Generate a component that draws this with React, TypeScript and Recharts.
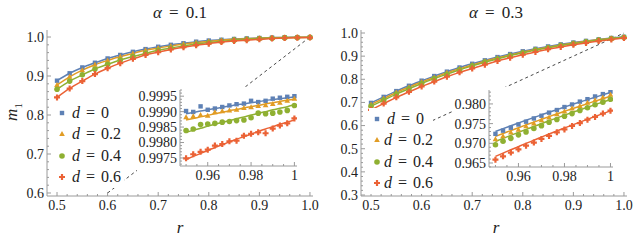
import { ComposedChart, Line, Scatter, XAxis, YAxis, ReferenceLine } from 'recharts'

const FONT = '"Liberation Serif", serif'
const FRAME = '#9a9a9a'
const INK = '#222'

// main panels: r grid of the simulations
const R = [0.5, 0.525, 0.55, 0.575, 0.6, 0.625, 0.65, 0.675, 0.7, 0.725, 0.75, 0.775, 0.8, 0.825, 0.85, 0.875, 0.9, 0.925, 0.95, 0.975, 1.0]
// zoomed insets
const RZ = [0.95, 0.9533, 0.9567, 0.96, 0.9633, 0.9667, 0.97, 0.9733, 0.9767, 0.98, 0.9833, 0.9867, 0.99, 0.9933, 0.9967, 1.0]

// alpha = 0.1
const A1_D0 = [0.888, 0.907, 0.922, 0.934, 0.945, 0.954, 0.962, 0.969, 0.975, 0.98, 0.984, 0.988, 0.991, 0.993, 0.995, 0.9965, 0.9975, 0.9985, 0.999, 0.9993, 0.9995]
const A1_D2 = [0.877, 0.898, 0.915, 0.929, 0.94, 0.95, 0.958, 0.966, 0.972, 0.977, 0.982, 0.986, 0.989, 0.992, 0.994, 0.9955, 0.997, 0.998, 0.9987, 0.9991, 0.9994]
const A1_D4 = [0.866, 0.887, 0.903, 0.918, 0.93, 0.941, 0.95, 0.958, 0.966, 0.972, 0.977, 0.982, 0.986, 0.989, 0.992, 0.994, 0.996, 0.997, 0.9984, 0.9988, 0.9992]
const A1_D6 = [0.845, 0.868, 0.887, 0.905, 0.92, 0.933, 0.944, 0.954, 0.961, 0.968, 0.974, 0.979, 0.983, 0.987, 0.99, 0.992, 0.994, 0.996, 0.9975, 0.9982, 0.9987]

const Z1_D0 = [0.99902, 0.99899, 0.99917, 0.99906, 0.9991, 0.99915, 0.9992, 0.99924, 0.99926, 0.99935, 0.99931, 0.99935, 0.99942, 0.99945, 0.99948, 0.9995]
const Z1_D2 = [0.99882, 0.99885, 0.99889, 0.99887, 0.99898, 0.99901, 0.99904, 0.99906, 0.99912, 0.99914, 0.99918, 0.99921, 0.99925, 0.99929, 0.99935, 0.99942]
const Z1_D4 = [0.99839, 0.99844, 0.99858, 0.9986, 0.99862, 0.99866, 0.99868, 0.99871, 0.99873, 0.9988, 0.99895, 0.99893, 0.99895, 0.99899, 0.99904, 0.9992]
const Z1_D6 = [0.99749, 0.99762, 0.9977, 0.99777, 0.9979, 0.99795, 0.99804, 0.99806, 0.99822, 0.99828, 0.99833, 0.9983, 0.99845, 0.99855, 0.99862, 0.99878]
const Z1_T0 = [0.99893, 0.99897, 0.99902, 0.99906, 0.9991, 0.99914, 0.99918, 0.99922, 0.99925, 0.99929, 0.99932, 0.99936, 0.99939, 0.99942, 0.99945, 0.99948]
const Z1_T2 = [0.99873, 0.99878, 0.99883, 0.99888, 0.99893, 0.99898, 0.99903, 0.99907, 0.99912, 0.99916, 0.9992, 0.99925, 0.99929, 0.99933, 0.99937, 0.9994]
const Z1_T4 = [0.99833, 0.9984, 0.99846, 0.99853, 0.99859, 0.99865, 0.99871, 0.99877, 0.99883, 0.99889, 0.99894, 0.999, 0.99906, 0.99911, 0.99916, 0.99922]
const Z1_T6 = [0.99745, 0.99755, 0.99765, 0.99774, 0.99784, 0.99793, 0.99802, 0.99811, 0.99819, 0.99827, 0.99836, 0.99844, 0.99851, 0.99859, 0.99866, 0.99873]

// alpha = 0.3
const A3_D0 = [0.698, 0.724, 0.749, 0.772, 0.794, 0.814, 0.833, 0.851, 0.867, 0.882, 0.896, 0.909, 0.921, 0.932, 0.942, 0.951, 0.959, 0.966, 0.9725, 0.9785, 0.9835]
const A3_D2 = [0.691, 0.717, 0.743, 0.766, 0.788, 0.808, 0.828, 0.846, 0.862, 0.878, 0.892, 0.905, 0.917, 0.929, 0.939, 0.948, 0.956, 0.964, 0.9708, 0.9768, 0.9822]
const A3_D4 = [0.684, 0.71, 0.736, 0.759, 0.782, 0.803, 0.822, 0.841, 0.858, 0.874, 0.888, 0.902, 0.914, 0.926, 0.936, 0.946, 0.954, 0.962, 0.9698, 0.9758, 0.9812]
const A3_D6 = [0.668, 0.695, 0.722, 0.746, 0.769, 0.79, 0.811, 0.83, 0.847, 0.863, 0.879, 0.893, 0.906, 0.918, 0.93, 0.94, 0.949, 0.957, 0.965, 0.972, 0.9785]

const Z3_D0 = [0.9724, 0.97322, 0.97395, 0.97478, 0.97549, 0.97631, 0.977, 0.97779, 0.97845, 0.97921, 0.97986, 0.98059, 0.98121, 0.9819, 0.9825, 0.98314]
const Z3_D2 = [0.97106, 0.97182, 0.97272, 0.97344, 0.97431, 0.97502, 0.97586, 0.97655, 0.97737, 0.97805, 0.97884, 0.9795, 0.98027, 0.98091, 0.98166, 0.98231]
const Z3_D4 = [0.96963, 0.97052, 0.97126, 0.97215, 0.9729, 0.97376, 0.97449, 0.97533, 0.97604, 0.97686, 0.97755, 0.97835, 0.97902, 0.9798, 0.98045, 0.98118]
const Z3_D6 = [0.96583, 0.96669, 0.96765, 0.96846, 0.9694, 0.97019, 0.97111, 0.97188, 0.97278, 0.97353, 0.97441, 0.97514, 0.976, 0.97671, 0.97755, 0.97828]
const Z3_T0 = [0.973, 0.97373, 0.97445, 0.97516, 0.97586, 0.97655, 0.97723, 0.9779, 0.97856, 0.97921, 0.97985, 0.98048, 0.9811, 0.98171, 0.98231, 0.9829]
const Z3_T2 = [0.97174, 0.97249, 0.97323, 0.97396, 0.97468, 0.97539, 0.97609, 0.97678, 0.97746, 0.97813, 0.97879, 0.97944, 0.98008, 0.98071, 0.98133, 0.98194]
const Z3_T4 = [0.97047, 0.97125, 0.97202, 0.97278, 0.97353, 0.97427, 0.975, 0.97572, 0.97643, 0.97713, 0.97782, 0.9785, 0.97917, 0.97983, 0.98048, 0.98112]
const Z3_T6 = [0.96668, 0.96752, 0.96835, 0.96917, 0.96998, 0.97078, 0.97157, 0.97235, 0.97312, 0.97388, 0.97463, 0.97537, 0.9761, 0.97682, 0.97753, 0.97823]

const D_LABELS = ['0', '0.2', '0.4', '0.6']
const COLORS = ['#5E81B5', '#E19C24', '#8FB032', '#EB6235']
const SHAPES = ['square', 'triangle', 'circle', 'plus']
const KEYS = ['d0', 'd2', 'd4', 'd6']

const MAIN_X_MAJOR = [0.5, 0.6, 0.7, 0.8, 0.9, 1.0]
const A1_Y_MAJOR = [0.6, 0.7, 0.8, 0.9, 1.0]
const A3_Y_MAJOR = [0.3, 0.4, 0.5, 0.6, 0.7, 0.8, 0.9, 1.0]
const ZOOM_X_MAJOR = [0.96, 0.98, 1.0]
const Z1_Y_MAJOR = [0.9975, 0.998, 0.9985, 0.999, 0.9995]
const Z3_Y_MAJOR = [0.965, 0.97, 0.975, 0.98]

const steps = (a: number, b: number, s: number) => {
  const out: number[] = []
  for (let i = 0; a + i * s <= b + s / 1000; i++) out.push(+(a + i * s).toFixed(6))
  return out
}

const table = (xs: number[], cols: Record<string, number[]>) =>
  xs.map((r, i) => {
    const row: Record<string, number> = { r }
    Object.keys(cols).forEach(k => { row[k] = cols[k][i] })
    return row
  })

const a1Data = table(R, { d0: A1_D0, d2: A1_D2, d4: A1_D4, d6: A1_D6 })
const a3Data = table(R, { d0: A3_D0, d2: A3_D2, d4: A3_D4, d6: A3_D6 })
const z1Data = table(RZ, { d0: Z1_D0, d2: Z1_D2, d4: Z1_D4, d6: Z1_D6, t0: Z1_T0, t2: Z1_T2, t4: Z1_T4, t6: Z1_T6 })
const z3Data = table(RZ, { d0: Z3_D0, d2: Z3_D2, d4: Z3_D4, d6: Z3_D6, t0: Z3_T0, t2: Z3_T2, t4: Z3_T4, t6: Z3_T6 })

function Marker({ kind, cx, cy, color }: { kind: string; cx: number; cy: number; color: string }) {
  if (kind === 'square') return <rect x={cx - 2.2} y={cy - 2.2} width={4.4} height={4.4} fill={color} />
  if (kind === 'triangle') return <polygon points={`${cx},${cy - 3} ${cx + 2.8},${cy + 2} ${cx - 2.8},${cy + 2}`} fill={color} />
  if (kind === 'circle') return <circle cx={cx} cy={cy} r={2.8} fill={color} />
  const a = 1.1, b = 3
  return (
    <path
      d={`M${cx - a},${cy - b}H${cx + a}V${cy - a}H${cx + b}V${cy + a}H${cx + a}V${cy + b}H${cx - a}V${cy + a}H${cx - b}V${cy - a}H${cx - a}Z`}
      fill={color}
    />
  )
}

const isMajor = (majors: number[], v: number) => majors.some(m => Math.abs(m - v) < 1e-7)

const tick = (side: string, majors: number[], fmt?: (v: number) => string) => (p: any) => {
  const { x, y, payload } = p
  const v = payload.value
  const big = isMajor(majors, v)
  const L = big ? 4 : 2
  const txt = { fontFamily: FONT, fontSize: 14, fill: INK }
  if (side === 'bottom')
    return (
      <g>
        <line x1={x} y1={y} x2={x} y2={y - L} stroke={FRAME} />
        {fmt && big && <text x={x} y={y + 3} dy="0.75em" textAnchor="middle" style={txt}>{fmt(v)}</text>}
      </g>
    )
  if (side === 'top') return <line x1={x} y1={y} x2={x} y2={y + L} stroke={FRAME} />
  if (side === 'left')
    return (
      <g>
        <line x1={x} y1={y} x2={x + L} y2={y} stroke={FRAME} />
        {fmt && big && <text x={x - 3} y={y} dy="0.35em" textAnchor="end" style={txt}>{fmt(v)}</text>}
      </g>
    )
  return <line x1={x} y1={y} x2={x - L} y2={y} stroke={FRAME} />
}

interface PanelProps {
  data: Record<string, number>[]
  width: number
  height: number
  margin: { top: number; right: number; bottom: number; left: number }
  yWidth: number
  xHeight: number
  xDomain: [number, number]
  yDomain: [number, number]
  xTicks: number[]
  yTicks: number[]
  xMajor: number[]
  yMajor: number[]
  fmtX: (v: number) => string
  fmtY: (v: number) => string
  zoom?: boolean
  diagonal?: boolean
}

function Panel(p: PanelProps) {
  const axisCommon = { type: 'number' as const, allowDataOverflow: true, interval: 0 as const, tickSize: 0, tickMargin: 0, tickLine: false, axisLine: { stroke: FRAME } }
  return (
    <ComposedChart width={p.width} height={p.height} data={p.data} margin={p.margin}>
      <XAxis {...axisCommon} dataKey="r" domain={p.xDomain} ticks={p.xTicks} height={p.xHeight} tick={tick('bottom', p.xMajor, p.fmtX)} />
      <XAxis {...axisCommon} xAxisId="top" orientation="top" dataKey="r" domain={p.xDomain} ticks={p.xTicks} height={0} tick={tick('top', p.xMajor)} />
      <YAxis {...axisCommon} domain={p.yDomain} ticks={p.yTicks} width={p.yWidth} tick={tick('left', p.yMajor, p.fmtY)} />
      <YAxis {...axisCommon} yAxisId="right" orientation="right" domain={p.yDomain} ticks={p.yTicks} width={0} tick={tick('right', p.yMajor)} />
      {p.diagonal && (
        <ReferenceLine segment={[{ x: 0.6, y: 0.6 }, { x: 1, y: 1 }]} stroke="#333" strokeWidth={0.9} strokeDasharray="3 3" ifOverflow="visible" />
      )}
      {KEYS.map((k, i) => (
        <Line
          key={'l' + k}
          dataKey={p.zoom ? 't' + k.slice(1) : k}
          type="monotone"
          stroke={COLORS[i]}
          strokeWidth={1.5}
          dot={false}
          activeDot={false}
          isAnimationActive={false}
        />
      ))}
      {KEYS.map((k, i) => (
        <Scatter
          key={'s' + k}
          dataKey={k}
          fill={COLORS[i]}
          isAnimationActive={false}
          shape={(s: any) => <Marker kind={SHAPES[i]} cx={s.cx} cy={s.cy} color={COLORS[i]} />}
        />
      ))}
    </ComposedChart>
  )
}

function LegendBox({ left, top, right }: { left: number; top: number; right: number }) {
  return (
    <div style={{ position: 'absolute', left, top, width: right - left, background: '#fff', fontFamily: FONT, fontSize: 16, color: INK }}>
      {D_LABELS.map((d, i) => (
        <div key={d} style={{ height: 21.5, display: 'flex', alignItems: 'center' }}>
          <svg width={12} height={12} style={{ marginLeft: 2, marginRight: 4 }}>
            <Marker kind={SHAPES[i]} cx={6} cy={6} color={COLORS[i]} />
          </svg>
          <span style={{ whiteSpace: 'nowrap' }}><i>d</i><span style={{ margin: '0 6px' }}>=</span>{d}</span>
        </div>
      ))}
    </div>
  )
}

const f1 = (v: number) => v.toFixed(1)
const fz = (v: number) => (v === 1 ? '1' : v.toFixed(2))

const textAbs = (x: number, y: number): React.CSSProperties => ({
  position: 'absolute', left: x, top: y, transform: 'translate(-50%, -50%)', fontFamily: FONT, color: INK, whiteSpace: 'nowrap'
})

export default function App() {
  return (
    <div style={{ position: 'absolute', left: 0, top: 0, width: 634, height: 242, background: '#fff', overflow: 'hidden', fontFamily: FONT }}>
      <div style={{ position: 'absolute', left: 0, top: 0 }}>
        <Panel
          data={a1Data} width={330} height={242} margin={{ top: 30, right: 17, bottom: 0, left: 0 }}
          yWidth={47} xHeight={46} xDomain={[0.4802, 1.006]} yDomain={[0.5923, 1.018]}
          xTicks={steps(0.5, 1.0, 0.02)} yTicks={steps(0.6, 1.0, 0.02)}
          xMajor={MAIN_X_MAJOR} yMajor={A1_Y_MAJOR} fmtX={f1} fmtY={f1} diagonal
        />
      </div>
      <div style={{ position: 'absolute', left: 314, top: 0 }}>
        <Panel
          data={a3Data} width={320} height={242} margin={{ top: 30, right: 7, bottom: 0, left: 0 }}
          yWidth={47} xHeight={46} xDomain={[0.4802, 1.006]} yDomain={[0.2957, 1.013]}
          xTicks={steps(0.5, 1.0, 0.02)} yTicks={steps(0.3, 1.0, 0.02)}
          xMajor={MAIN_X_MAJOR} yMajor={A3_Y_MAJOR} fmtX={f1} fmtY={f1} diagonal
        />
      </div>

      <div style={textAbs(180, 13)}><span style={{ fontSize: 17 }}><i>α</i><span style={{ margin: '0 7px' }}>=</span>0.1</span></div>
      <div style={textAbs(496, 13)}><span style={{ fontSize: 17 }}><i>α</i><span style={{ margin: '0 7px' }}>=</span>0.3</span></div>
      <div style={{ ...textAbs(180, 228), fontSize: 17, fontStyle: 'italic' }}>r</div>
      <div style={{ ...textAbs(496, 228), fontSize: 17, fontStyle: 'italic' }}>r</div>
      <div style={{ ...textAbs(13, 112), transform: 'translate(-50%, -50%) rotate(-90deg)', fontSize: 17 }}>
        <i>m</i><sub style={{ fontSize: 11 }}>1</sub>
      </div>

      <LegendBox left={54} top={102} right={124} />
      <LegendBox left={369} top={108} right={433} />

      <div style={{ position: 'absolute', left: 137, top: 87, background: '#fff' }}>
        <Panel
          data={z1Data} width={165} height={101} margin={{ top: 3, right: 5, bottom: 0, left: 0 }}
          yWidth={43} xHeight={22} xDomain={[0.9472, 1.0012]} yDomain={[0.99724, 0.9997]}
          xTicks={steps(0.95, 1.0, 0.005)} yTicks={steps(0.9973, 0.9997, 0.0001)}
          xMajor={ZOOM_X_MAJOR} yMajor={Z1_Y_MAJOR} fmtX={fz} fmtY={v => v.toFixed(4)} zoom
        />
      </div>
      <div style={{ position: 'absolute', left: 454, top: 87, background: '#fff' }}>
        <Panel
          data={z3Data} width={165} height={102} margin={{ top: 3, right: 6, bottom: 0, left: 0 }}
          yWidth={35} xHeight={22} xDomain={[0.9472, 1.0011]} yDomain={[0.96398, 0.98354]}
          xTicks={steps(0.95, 1.0, 0.005)} yTicks={steps(0.964, 0.983, 0.001)}
          xMajor={ZOOM_X_MAJOR} yMajor={Z3_Y_MAJOR} fmtX={fz} fmtY={v => v.toFixed(3)} zoom
        />
      </div>
    </div>
  )
}
